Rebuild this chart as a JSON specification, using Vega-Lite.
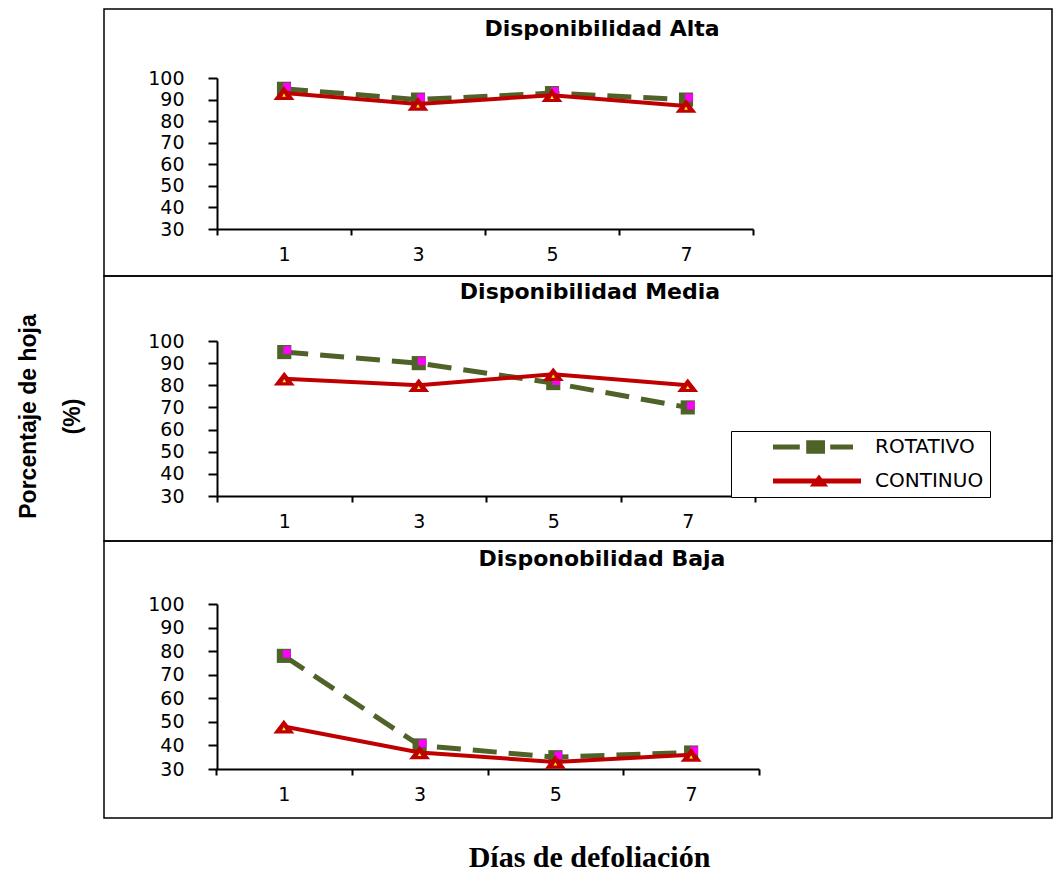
{
  "$schema": "https://vega.github.io/schema/vega-lite/v6.json",
  "background": "white",
  "padding": {"left": 16, "top": 8, "right": 0, "bottom": 0},
  "spacing": 0,
  "bounds": "flush",
  "datasets": {
    "d": [
      {"panel": "Alta", "dia": "1", "serie": "ROTATIVO", "valor": 95},
      {"panel": "Alta", "dia": "3", "serie": "ROTATIVO", "valor": 90},
      {"panel": "Alta", "dia": "5", "serie": "ROTATIVO", "valor": 93},
      {"panel": "Alta", "dia": "7", "serie": "ROTATIVO", "valor": 90},
      {"panel": "Alta", "dia": "1", "serie": "CONTINUO", "valor": 93},
      {"panel": "Alta", "dia": "3", "serie": "CONTINUO", "valor": 88},
      {"panel": "Alta", "dia": "5", "serie": "CONTINUO", "valor": 92},
      {"panel": "Alta", "dia": "7", "serie": "CONTINUO", "valor": 87},
      {"panel": "Media", "dia": "1", "serie": "ROTATIVO", "valor": 95},
      {"panel": "Media", "dia": "3", "serie": "ROTATIVO", "valor": 90},
      {"panel": "Media", "dia": "5", "serie": "ROTATIVO", "valor": 81},
      {"panel": "Media", "dia": "7", "serie": "ROTATIVO", "valor": 70},
      {"panel": "Media", "dia": "1", "serie": "CONTINUO", "valor": 83},
      {"panel": "Media", "dia": "3", "serie": "CONTINUO", "valor": 80},
      {"panel": "Media", "dia": "5", "serie": "CONTINUO", "valor": 85},
      {"panel": "Media", "dia": "7", "serie": "CONTINUO", "valor": 80},
      {"panel": "Baja", "dia": "1", "serie": "ROTATIVO", "valor": 78},
      {"panel": "Baja", "dia": "3", "serie": "ROTATIVO", "valor": 40},
      {"panel": "Baja", "dia": "5", "serie": "ROTATIVO", "valor": 35},
      {"panel": "Baja", "dia": "7", "serie": "ROTATIVO", "valor": 37},
      {"panel": "Baja", "dia": "1", "serie": "CONTINUO", "valor": 48},
      {"panel": "Baja", "dia": "3", "serie": "CONTINUO", "valor": 37},
      {"panel": "Baja", "dia": "5", "serie": "CONTINUO", "valor": 33},
      {"panel": "Baja", "dia": "7", "serie": "CONTINUO", "valor": 36}
    ]
  },
  "vconcat": [
    {
      "width": 948,
      "height": 267,
      "view": {"stroke": "black", "strokeWidth": 1.5},
      "title": {"text": "Disponibilidad  Alta", "dx": 24, "offset": -32},
      "data": {"name": "d"},
      "transform": [{"filter": "datum.panel === 'Alta'"}],
      "encoding": {
        "x": {"field": "dia", "type": "ordinal", "bandPosition": 0.5,
              "scale": {"type": "band", "paddingInner": 0, "paddingOuter": 0, "range": [113, 649]},
              "axis": {"title": null, "offset": -47}},
        "y": {"field": "valor", "type": "quantitative",
              "scale": {"domain": [30, 100], "nice": false, "zero": false, "range": [220, 69]},
              "axis": {"title": null, "offset": -113, "values": [30, 40, 50, 60, 70, 80, 90, 100]}}
      },
      "layer": [
        {"transform": [{"filter": "datum.serie === 'ROTATIVO'"}], "mark": {"type": "line", "color": "#4F6228", "strokeWidth": 5, "strokeDash": [24, 12]}},
        {"transform": [{"filter": "datum.serie === 'ROTATIVO'"}], "mark": {"type": "point", "shape": "square", "filled": true, "color": "#4F6228", "size": 200, "opacity": 1}},
        {"transform": [{"filter": "datum.serie === 'ROTATIVO'"}], "mark": {"type": "point", "shape": "square", "filled": true, "color": "#FF00FF", "size": 60, "opacity": 1, "xOffset": 3, "yOffset": -2}},
        {"transform": [{"filter": "datum.serie === 'CONTINUO'"}], "mark": {"type": "line", "color": "#C00000", "strokeWidth": 4}},
        {"transform": [{"filter": "datum.serie === 'CONTINUO'"}], "mark": {"type": "point", "shape": "M0,-0.65L1,0.65L-1,0.65Z", "filled": true, "color": "#C00000", "size": 440, "opacity": 1}},
        {"transform": [{"filter": "datum.serie === 'CONTINUO'"}], "mark": {"type": "point", "shape": "triangle-up", "filled": true, "color": "#FFFF00", "size": 14, "opacity": 1, "yOffset": 2}}
      ]
    },
    {
      "width": 948,
      "height": 265,
      "view": {"stroke": "black", "strokeWidth": 1.5},
      "title": {"text": "Disponibilidad  Media", "dx": 12, "offset": -28},
      "data": {"name": "d"},
      "transform": [{"filter": "datum.panel === 'Media'"}],
      "encoding": {
        "x": {"field": "dia", "type": "ordinal", "bandPosition": 0.5,
              "scale": {"type": "band", "paddingInner": 0, "paddingOuter": 0, "range": [113, 651]},
              "axis": {"title": null, "offset": -45}},
        "y": {"field": "valor", "type": "quantitative",
              "scale": {"domain": [30, 100], "nice": false, "zero": false, "range": [220, 65]},
              "axis": {"title": ["Porcentaje de hoja", "(%)"], "offset": -113, "values": [30, 40, 50, 60, 70, 80, 90, 100],
                       "titleX": -200, "titleY": 140, "titleAngle": -90, "titleAlign": "center", "titleBaseline": "top",
                       "titleFont": "Liberation Sans", "titleFontSize": 23, "titleFontWeight": "bold", "titleColor": "black", "titleLineHeight": 44}}
      },
      "layer": [
        {"transform": [{"filter": "datum.serie === 'ROTATIVO'"}], "mark": {"type": "line", "color": "#4F6228", "strokeWidth": 5, "strokeDash": [24, 12]}},
        {"transform": [{"filter": "datum.serie === 'ROTATIVO'"}], "mark": {"type": "point", "shape": "square", "filled": true, "color": "#4F6228", "size": 200, "opacity": 1}},
        {"transform": [{"filter": "datum.serie === 'ROTATIVO'"}], "mark": {"type": "point", "shape": "square", "filled": true, "color": "#FF00FF", "size": 60, "opacity": 1, "xOffset": 3, "yOffset": -2}},
        {"transform": [{"filter": "datum.serie === 'CONTINUO'"}], "mark": {"type": "line", "color": "#C00000", "strokeWidth": 4}},
        {"transform": [{"filter": "datum.serie === 'CONTINUO'"}], "mark": {"type": "point", "shape": "M0,-0.65L1,0.65L-1,0.65Z", "filled": true, "color": "#C00000", "size": 440, "opacity": 1}},
        {"transform": [{"filter": "datum.serie === 'CONTINUO'"}], "mark": {"type": "point", "shape": "triangle-up", "filled": true, "color": "#FFFF00", "size": 14, "opacity": 1, "yOffset": 2}},
        {"transform": [{"filter": "datum.valor < 0"}],
         "mark": {"type": "point", "filled": true, "size": 256, "opacity": 1},
         "encoding": {
           "color": {"field": "serie", "type": "nominal",
                     "scale": {"domain": ["ROTATIVO", "CONTINUO"], "range": ["#4F6228", "#C00000"]},
                     "legend": {"title": null, "orient": "none", "legendX": 627, "legendY": 422,
                                "strokeColor": "black", "fillColor": "white", "padding": 6, "rowPadding": 14,
                                "labelOffset": 118, "labelFont": "DejaVu Sans", "labelFontSize": 20, "labelColor": "black",
                                "symbolSize": 256, "symbolOpacity": 1, "symbolStrokeWidth": 0}},
           "shape": {"field": "serie", "type": "nominal",
                     "scale": {"domain": ["ROTATIVO", "CONTINUO"],
                               "range": ["M3.25,-0.32H6.6V0.32H3.25Z M7.4,-0.85H9.75V0.85H7.4Z M10.4,-0.32H13.25V0.32H10.4Z",
                                         "M3.25,-0.3H14.25V0.3H3.25Z M9,-0.8L10.15,0.7L7.85,0.7Z"]},
                     "legend": {"title": null, "orient": "none", "legendX": 627, "legendY": 422,
                                "strokeColor": "black", "fillColor": "white", "padding": 6, "rowPadding": 14,
                                "labelOffset": 118, "labelFont": "DejaVu Sans", "labelFontSize": 20, "labelColor": "black",
                                "symbolSize": 256, "symbolOpacity": 1, "symbolStrokeWidth": 0}}
         }}
      ]
    },
    {
      "width": 948,
      "height": 277,
      "view": {"stroke": "black", "strokeWidth": 1.5},
      "title": {"text": "Disponobilidad  Baja", "dx": 24, "offset": -30},
      "data": {"name": "d"},
      "transform": [{"filter": "datum.panel === 'Baja'"}],
      "encoding": {
        "x": {"field": "dia", "type": "ordinal", "bandPosition": 0.5,
              "scale": {"type": "band", "paddingInner": 0, "paddingOuter": 0, "range": [112, 655]},
              "axis": {"title": "Días de defoliación", "offset": -49, "titleX": 485, "titleY": 97,
                       "titleAlign": "center", "titleBaseline": "alphabetic", "titleFont": "Liberation Serif",
                       "titleFontSize": 30, "titleFontWeight": "bold", "titleColor": "black"}},
        "y": {"field": "valor", "type": "quantitative",
              "scale": {"domain": [30, 100], "nice": false, "zero": false, "range": [228, 63]},
              "axis": {"title": null, "offset": -113, "values": [30, 40, 50, 60, 70, 80, 90, 100]}}
      },
      "layer": [
        {"transform": [{"filter": "datum.serie === 'ROTATIVO'"}], "mark": {"type": "line", "color": "#4F6228", "strokeWidth": 5, "strokeDash": [24, 12]}},
        {"transform": [{"filter": "datum.serie === 'ROTATIVO'"}], "mark": {"type": "point", "shape": "square", "filled": true, "color": "#4F6228", "size": 200, "opacity": 1}},
        {"transform": [{"filter": "datum.serie === 'ROTATIVO'"}], "mark": {"type": "point", "shape": "square", "filled": true, "color": "#FF00FF", "size": 60, "opacity": 1, "xOffset": 3, "yOffset": -2}},
        {"transform": [{"filter": "datum.serie === 'CONTINUO'"}], "mark": {"type": "line", "color": "#C00000", "strokeWidth": 4}},
        {"transform": [{"filter": "datum.serie === 'CONTINUO'"}], "mark": {"type": "point", "shape": "M0,-0.65L1,0.65L-1,0.65Z", "filled": true, "color": "#C00000", "size": 440, "opacity": 1}},
        {"transform": [{"filter": "datum.serie === 'CONTINUO'"}], "mark": {"type": "point", "shape": "triangle-up", "filled": true, "color": "#FFFF00", "size": 14, "opacity": 1, "yOffset": 2}}
      ]
    }
  ],
  "config": {
    "font": "DejaVu Sans",
    "axis": {"domainColor": "black", "domainWidth": 2, "tickColor": "black", "tickWidth": 2, "grid": false,
             "labelFont": "DejaVu Sans", "labelFontSize": 19, "labelColor": "black"},
    "axisX": {"tickSize": 6, "labelPadding": 10, "labelAngle": 0, "tickBand": "extent"},
    "axisY": {"tickSize": 9, "labelPadding": 24},
    "title": {"font": "DejaVu Sans", "fontSize": 22, "fontWeight": "bold", "color": "black", "anchor": "middle", "frame": "group", "baseline": "alphabetic"}
  }
}
